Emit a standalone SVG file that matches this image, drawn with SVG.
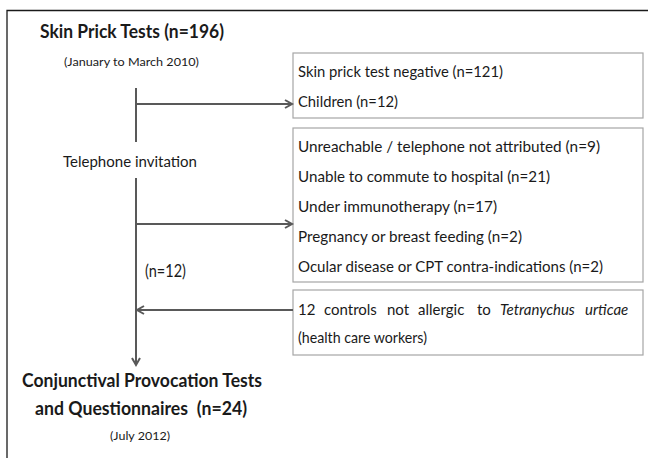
<svg xmlns="http://www.w3.org/2000/svg" width="648" height="458" viewBox="0 0 648 458">
<style>
text{font-family:Lato,"Open Sans","Liberation Sans",sans-serif;fill:#1a1a1a}
.b{font-weight:bold}
.box{fill:#fff;stroke:#a6a6a6;stroke-width:1.2}
.ln{stroke:#595959;stroke-width:2;fill:none}
.t{font-size:15px}
</style>
<defs>
<marker id="ah" markerUnits="userSpaceOnUse" markerWidth="12" markerHeight="12" refX="9" refY="5" orient="auto">
<path d="M2,1 L9,5 L2,9" fill="none" stroke="#595959" stroke-width="2"/>
</marker>
</defs>
<rect width="648" height="458" fill="#fff"/>
<path d="M7,458 V10.5 H648" fill="none" stroke="#1a1a1a" stroke-width="1.3"/>

<g id="start">
<text class="b" x="40" y="38" font-size="18" textLength="184" lengthAdjust="spacingAndGlyphs">Skin Prick Tests (n=196)</text>
<text x="64" y="66" font-size="11.5" textLength="135" lengthAdjust="spacingAndGlyphs">(January to March 2010)</text>
</g>
<g id="telephone">
<text x="63" y="167" font-size="15.5" textLength="134" lengthAdjust="spacingAndGlyphs">Telephone invitation</text>
</g>
<g id="n12">
<text x="145" y="277" font-size="16.5" textLength="41" lengthAdjust="spacingAndGlyphs">(n=12)</text>
</g>
<g id="box1">
<rect class="box" x="293" y="53" width="350" height="65"/>
<text class="t" x="298" y="77" textLength="205" lengthAdjust="spacingAndGlyphs">Skin prick test negative (n=121)</text>
<text class="t" x="298" y="107" textLength="100" lengthAdjust="spacingAndGlyphs">Children (n=12)</text>
</g>
<g id="box2">
<rect class="box" x="293" y="128" width="350" height="154"/>
<text class="t" x="298" y="152" textLength="302" lengthAdjust="spacingAndGlyphs">Unreachable / telephone not attributed (n=9)</text>
<text class="t" x="298" y="182" textLength="252" lengthAdjust="spacingAndGlyphs">Unable to commute to hospital (n=21)</text>
<text class="t" x="298" y="212" textLength="199" lengthAdjust="spacingAndGlyphs">Under immunotherapy (n=17)</text>
<text class="t" x="298" y="242" textLength="224" lengthAdjust="spacingAndGlyphs">Pregnancy or breast feeding (n=2)</text>
<text class="t" x="298" y="272" textLength="305" lengthAdjust="spacingAndGlyphs">Ocular disease or CPT contra-indications (n=2)</text>
</g>
<g id="box3">
<rect class="box" x="293" y="290" width="350" height="65"/>
<text class="t" y="315"><tspan x="298">12</tspan><tspan x="324">controls</tspan><tspan x="387">not</tspan><tspan x="418">allergic</tspan><tspan x="477">to</tspan><tspan x="500" font-style="italic">Tetranychus</tspan><tspan x="585" font-style="italic">urticae</tspan></text>
<text class="t" x="298" y="343" textLength="129" lengthAdjust="spacingAndGlyphs">(health care workers)</text>
</g>
<g id="end">
<text class="b" x="22" y="387" font-size="18" textLength="240" lengthAdjust="spacingAndGlyphs">Conjunctival Provocation Tests</text>
<text class="b" x="35" y="415" font-size="18" textLength="212" lengthAdjust="spacingAndGlyphs" xml:space="preserve">and Questionnaires  (n=24)</text>
<text x="110" y="440" font-size="11.5" textLength="60" lengthAdjust="spacingAndGlyphs">(July 2012)</text>
</g>
<g id="connectors">
<path class="ln" d="M136,88 V142"/>
<path class="ln" d="M136,178 V365" marker-end="url(#ah)"/>
<path class="ln" d="M136,104 H292" marker-end="url(#ah)"/>
<path class="ln" d="M136,224 H292" marker-end="url(#ah)"/>
<path class="ln" d="M293,310 H137" marker-end="url(#ah)"/>
</g>
</svg>
